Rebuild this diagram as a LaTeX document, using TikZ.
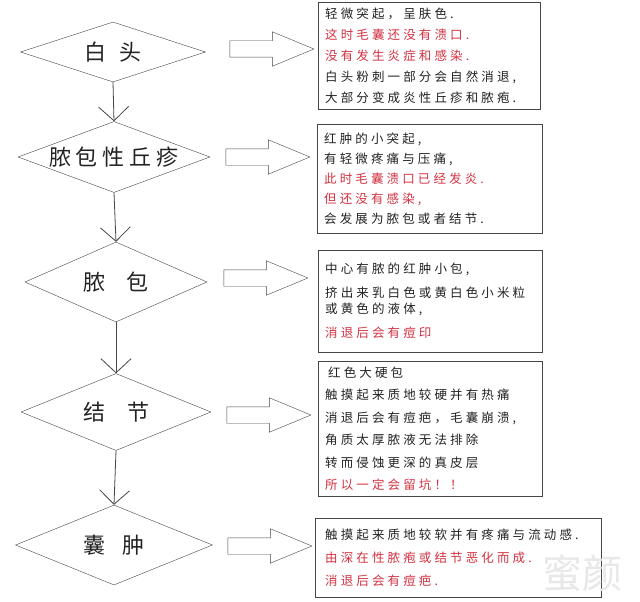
\documentclass[tikz,border=0pt]{standalone}
\usepackage{fontspec}
\setmainfont{Noto Sans CJK SC}
\newfontfamily\notefont{Noto Sans CJK SC}[LetterSpace=25]
\usetikzlibrary{arrows.meta,shapes.geometric,shapes.arrows}
\definecolor{linegray}{RGB}{70,70,70}
\definecolor{inkblack}{RGB}{35,35,35}
\definecolor{acnered}{RGB}{212,50,66}
\tikzset{
  stage/.style={draw=linegray, diamond, aspect=3, inner sep=0pt, font=\fontsize{22}{24}\selectfont, text=inkblack},
  hollow/.style={draw=linegray, single arrow, minimum height=84pt, inner xsep=0pt, inner ysep=8pt,
    single arrow head extend=9pt, single arrow tip angle=45},
  note/.style={draw=linegray, anchor=north west, align=left, inner xsep=7pt, inner ysep=0pt,
    font=\notefont\fontsize{12.5}{21}\selectfont, text=inkblack},
  flow/.style={-{Straight Barb[length=14pt, width=30pt]}, draw=linegray, line width=0.8pt},
  watermark/.style={text=gray!18, font=\fontsize{40}{40}\selectfont}
}

\begin{document}
\begin{tikzpicture}[x=1pt, y=-1pt]
    \useasboundingbox[fill=white] (0,0) rectangle (640,602);

    \node[stage, minimum width=185pt, minimum height=60pt] (baitou) at (113,52) {白\hspace{13pt}头};
    \node[stage, minimum width=192pt, minimum height=71pt] (qiuzhen) at (114,157) {脓\hspace{5pt}包\hspace{5pt}性\hspace{5pt}丘\hspace{5pt}疹};
    \node[stage, minimum width=182pt, minimum height=80pt] (nongbao) at (116,282) {脓\hspace{21pt}包};
    \node[stage, minimum width=190pt, minimum height=77pt] (jiejie) at (116,412) {结\hspace{22pt}节};
    \node[stage, minimum width=197pt, minimum height=80pt] (nangzhong) at (114,545) {囊\hspace{18pt}肿};

    \draw[flow] (baitou.south) -- (qiuzhen.north);
    \draw[flow] (qiuzhen.south) -- (nongbao.north);
    \draw[flow] (nongbao.south) -- (jiejie.north);
    \draw[flow] (jiejie.south) -- (nangzhong.north);

    \node[hollow] (a1) at (262,49) {};
    \node[hollow] (a2) at (258,157) {};
    \node[hollow] (a3) at (256,278) {};
    \node[hollow] (a4) at (259,415) {};
    \node[hollow] (a5) at (260,546) {};

    \node[note, text width=208pt, minimum height=107pt] (t1) at (318,2) {
      轻微突起，呈肤色.\\
      {\color{acnered}这时毛囊还没有溃口.}\\
      {\color{acnered}没有发生炎症和感染.}\\
      白头粉刺一部分会自然消退,\\
      大部分变成炎性丘疹和脓疱.};
    \node[note, text width=211pt, minimum height=109pt, font=\notefont\fontsize{12.5}{20}\selectfont] (t2) at (317,124) {
      红肿的小突起,\\
      有轻微疼痛与压痛,\\
      {\color{acnered}此时毛囊溃口已经发炎.}\\
      {\color{acnered}但还没有感染,}\\
      会发展为脓包或者结节.};
    \node[note, text width=210pt, minimum height=102pt] (t3) at (318,250) {
      中心有脓的红肿小包,\\[3pt]
      挤出来乳白色或黄白色小米粒\\[-5pt]
      或黄色的液体,\\[3pt]
      {\color{acnered}消退后会有痘印}};
    \node[note, text width=210pt, minimum height=135pt, font=\notefont\fontsize{12.5}{22.4}\selectfont] (t4) at (318,361) {
      \hspace{3pt}红色大硬包\\
      触摸起来质地较硬并有热痛\\
      消退后会有痘疤，毛囊崩溃,\\
      角质太厚脓液无法排除\\
      转而侵蚀更深的真皮层\\
      {\color{acnered}所以一定会留坑！！}};
    \node[note, text width=266pt, minimum height=79pt, inner xsep=10pt, font=\notefont\fontsize{12.5}{23}\selectfont] (t5) at (315,518) {
      触摸起来质地较软并有疼痛与流动感.\\
      {\color{acnered}由深在性脓疱或结节恶化而成.}\\
      {\color{acnered}消退后会有痘疤.}};

    \node[watermark] (wm) at (582,573) {蜜颜};
\end{tikzpicture}
\end{document}
